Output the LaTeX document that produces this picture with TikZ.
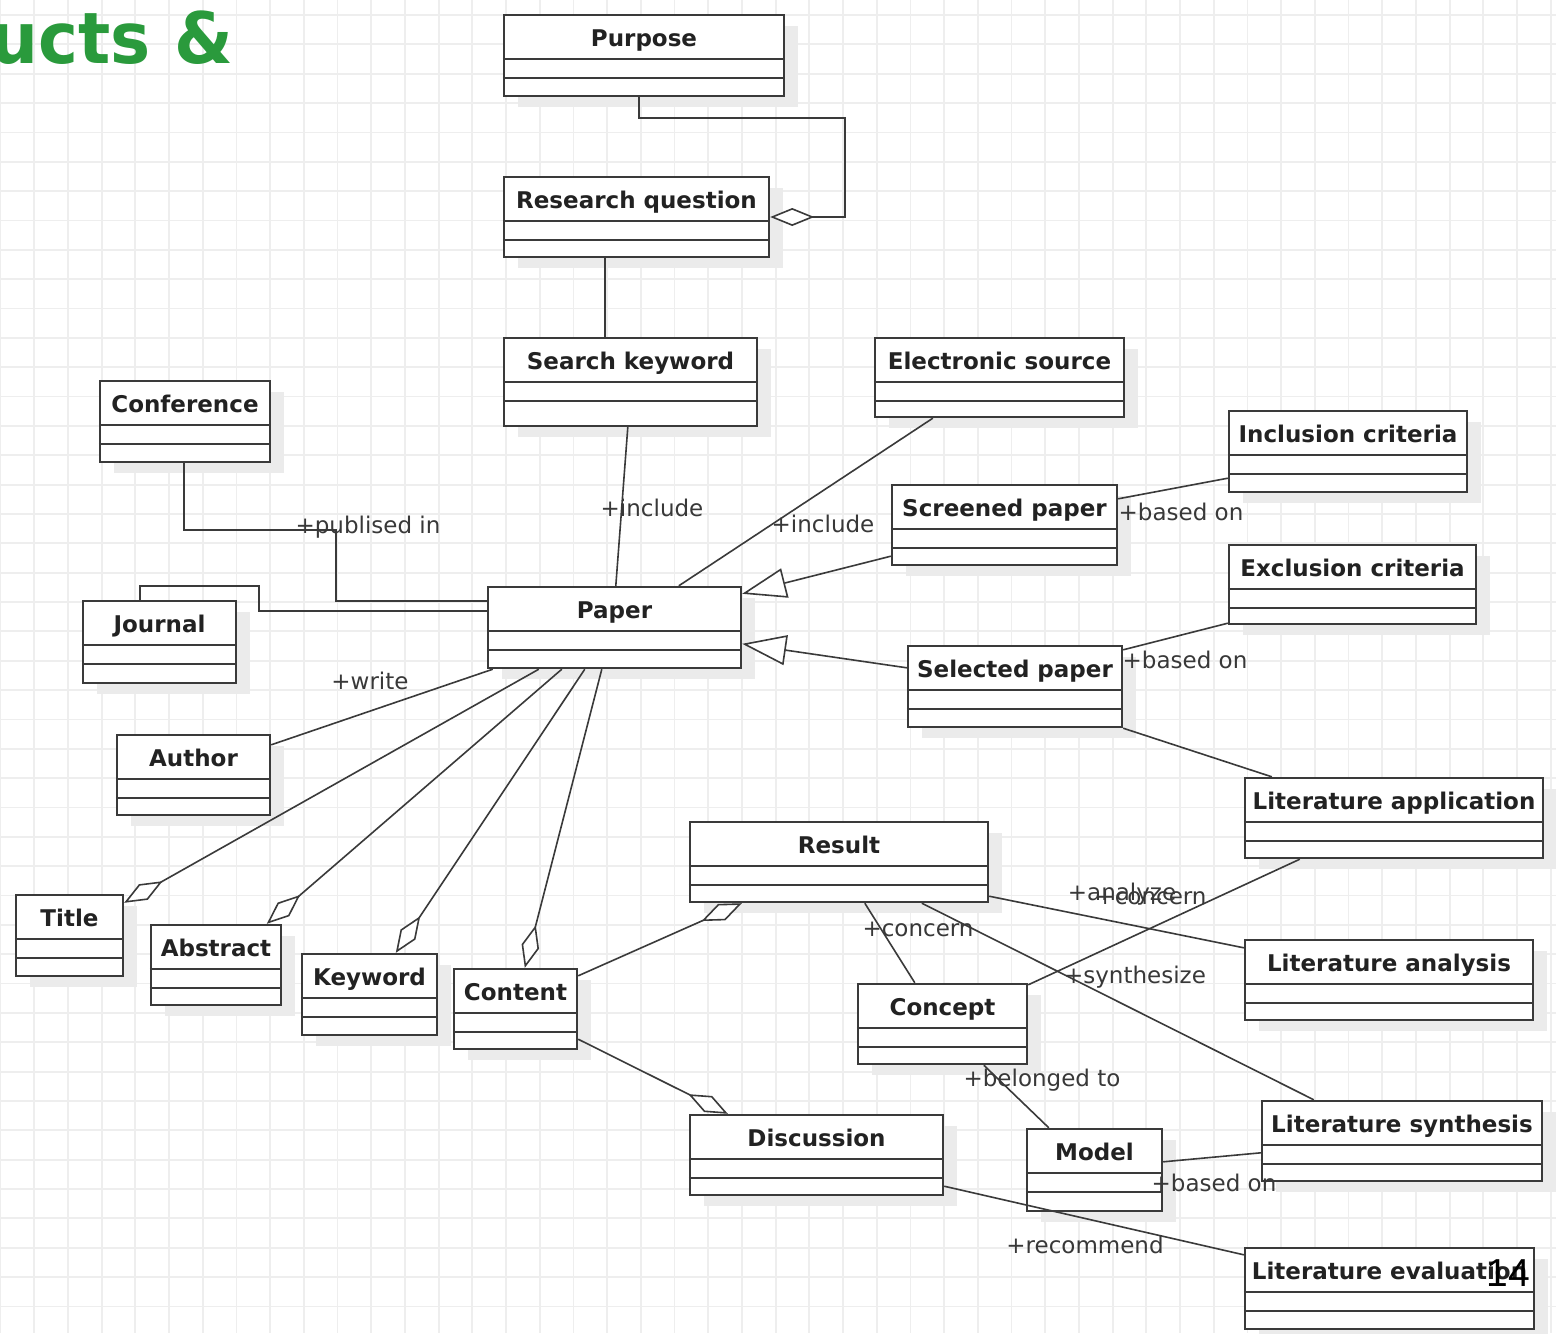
\documentclass[tikz,border=0pt]{standalone}
\usepackage{fontspec}
\setsansfont{DejaVu Sans}
\newfontfamily\pagenofont{Liberation Sans}
\usetikzlibrary{arrows.meta,calc,fit}

\definecolor{gridcol}{HTML}{EEEEEE}
\definecolor{shadowcol}{HTML}{EBEBEB}
\definecolor{linecol}{HTML}{3A3A3A}
\definecolor{textcol}{HTML}{222222}
\definecolor{labelcol}{HTML}{383838}
\definecolor{headgreen}{HTML}{2A9A3C}

% one pixel = 0.5pt, y grows downwards
\tikzset{
  x=0.5pt, y=-0.5pt,
  gridline/.style={draw=gridcol, line width=0.9pt},
  classbox/.style={rectangle, draw=linecol, line width=1.2pt, fill=white, inner sep=0pt},
  compline/.style={draw=linecol, line width=1.1pt},
  classname/.style={font=\fontsize{11.5}{13}\selectfont\sffamily\bfseries, text=textcol, inner sep=0pt, anchor=base},
  conn/.style={draw=linecol, line width=0.8pt},
  agg/.style={conn, -{Diamond[fill=white, length=22pt, width=9pt]}},
  gen/.style={conn, -{Triangle[fill=white, length=22pt, width=15pt]}},
  rolelabel/.style={font=\fontsize{11.5}{13}\selectfont\sffamily, text=labelcol, inner sep=0pt, anchor=base},
}

% UML class: name, left, top, right, bottom, title
\newcommand\umlclass[6]{%
  \fill[shadowcol] (#2+14,#3+11) rectangle (#4+14,#5+11);
  \node[classbox, fit={(#2,#3) (#4,#5)}] (#1) {};
  \draw[compline] ($(#1.north west)+(0,45.5)$) -- ($(#1.north east)+(0,45.5)$);
  \draw[compline] ($(#1.north west)+(0,64)$) -- ($(#1.north east)+(0,64)$);
  \node[classname] (#1-name) at ({(#2+#4)/2},#3+31) {#6};
}

\begin{document}
\begin{tikzpicture}
\useasboundingbox (0,0) rectangle (1556,1333);
\fill[white] (0,0) rectangle (1556,1333);

% background grid
\foreach \i in {0,...,46} \draw[gridline] (\i*33.7+0.5,0) -- (\i*33.7+0.5,1333);
\foreach \j in {0,...,45} \draw[gridline] (0,15+\j*29.35) -- (1556,15+\j*29.35);

% heading fragment
\node[anchor=base west, inner sep=0pt, text=headgreen, font=\fontsize{35.5}{40}\selectfont\sffamily\bfseries] (heading) at (-10,63) {\scalebox{0.95}[1]{ucts \&}};

% classes
\umlclass{purpose}{504}{15}{784}{96}{Purpose}
\umlclass{rq}{504}{177}{769}{257}{Research question}
\umlclass{sk}{504}{338}{757}{426}{Search keyword}
\umlclass{es}{875}{338}{1124}{417}{Electronic source}
\umlclass{conf}{100}{381}{270}{462}{Conference}
\umlclass{inc}{1229}{411}{1467}{492}{Inclusion criteria}
\umlclass{scr}{892}{485}{1117}{565}{Screened paper}
\umlclass{exc}{1229}{545}{1476}{624}{Exclusion criteria}
\umlclass{paper}{488}{587}{741}{668}{Paper}
\umlclass{journal}{83}{601}{236}{683}{Journal}
\umlclass{sel}{908}{646}{1122}{727}{Selected paper}
\umlclass{author}{117}{735}{270}{815}{Author}
\umlclass{lapp}{1245}{778}{1543}{858}{Literature application}
\umlclass{result}{690}{822}{988}{902}{Result}
\umlclass{title}{16}{895}{123}{976}{Title}
\umlclass{abstract}{151}{925}{281}{1005}{Abstract}
\umlclass{keyword}{302}{954}{437}{1035}{Keyword}
\umlclass{content}{454}{969}{577}{1049}{Content}
\umlclass{lana}{1245}{940}{1533}{1020}{Literature analysis}
\umlclass{concept}{858}{984}{1027}{1064}{Concept}
\umlclass{lsyn}{1262}{1101}{1542}{1181}{Literature synthesis}
\umlclass{disc}{690}{1115}{943}{1195}{Discussion}
\umlclass{model}{1027}{1129}{1162}{1211}{Model}
\umlclass{leval}{1245}{1248}{1534}{1329}{Literature evaluation}

% associations
\draw[agg] ($(purpose.south west)+(136,0)$) -- ++(0,21) -- ++(206,0) |- (rq.east);
\draw[conn] ($(rq.south west)+(102,0)$) -- ($(sk.north west)+(102,0)$);
\draw[conn] ($(sk.south west)+(125,0)$) -- ($(paper.north west)+(129,0)$);
\draw[conn] ($(es.south west)+(59,0)$) -- ($(paper.north west)+(192,0)$);
\draw[gen] ($(scr.south west)+(0,-10)$) -- ($(paper.north east)+(0,8)$);
\draw[gen] ($(sel.north west)+(0,23)$) -- ($(paper.north east)+(0,58)$);
\draw[conn] ($(conf.south west)+(85,0)$) -- ++(0,67) -- ++(152,0) |- ($(paper.north west)+(0,15)$);
\draw[conn] ($(journal.north west)+(58,0)$) -- ++(0,-14) -- ++(119,0) |- ($(paper.north west)+(0,25)$);
\draw[conn] ($(author.north east)+(0,11)$) -- ($(paper.south west)+(6,0)$);
\draw[agg] ($(paper.south west)+(52,0)$) -- ($(title.north east)+(0,9)$);
\draw[agg] ($(paper.south west)+(75,0)$) -- ($(abstract.north west)+(117,0)$);
\draw[agg] ($(paper.south west)+(98,0)$) -- ($(keyword.north west)+(95,0)$);
\draw[agg] ($(paper.south west)+(115,0)$) -- ($(content.north west)+(72,0)$);
\draw[agg] ($(content.north east)+(0,8)$) -- ($(result.south west)+(53,0)$);
\draw[agg] ($(content.south east)+(0,-11)$) -- ($(disc.north west)+(39,0)$);
\draw[conn] ($(result.south west)+(176,0)$) -- ($(concept.north west)+(58,0)$);
\draw[conn] ($(result.south west)+(233,0)$) -- ($(lsyn.north west)+(53,0)$);
\draw[conn] ($(result.south east)+(0,-7)$) -- ($(lana.north west)+(0,9)$);
\draw[conn] ($(concept.north east)+(0,2)$) -- ($(lapp.south west)+(56,0)$);
\draw[conn] ($(scr.north east)+(0,15)$) -- ($(inc.south west)+(0,-15)$);
\draw[conn] ($(sel.north east)+(0,5)$) -- ($(exc.south west)+(0,-2)$);
\draw[conn] (sel.south east) -- ($(lapp.north west)+(28,0)$);
\draw[conn] ($(concept.south west)+(127,0)$) -- ($(model.north west)+(23,0)$);
\draw[conn] ($(model.north east)+(0,34)$) -- ($(lsyn.north west)+(0,53)$);
\draw[conn] ($(disc.south east)+(0,-10)$) -- ($(leval.north west)+(0,8)$);

% role names
\node[rolelabel] (l-inc1) at (652,516) {+include};
\node[rolelabel] (l-inc2) at (823,532) {+include};
\node[rolelabel] (l-pub) at (368,533) {+publised in};
\node[rolelabel] (l-write) at (370,689) {+write};
\node[rolelabel] (l-based1) at (1181,520) {+based on};
\node[rolelabel] (l-based2) at (1185,668) {+based on};
\node[rolelabel] (l-analyze) at (1122,900) {+analyze};
\node[rolelabel] (l-concern2) at (1151,904) {+concern};
\node[rolelabel] (l-concern1) at (918,936) {+concern};
\node[rolelabel] (l-synth) at (1135,983) {+synthesize};
\node[rolelabel] (l-belong) at (1042,1086) {+belonged to};
\node[rolelabel] (l-based3) at (1214,1191) {+based on};
\node[rolelabel] (l-recommend) at (1085,1253) {+recommend};

% slide number
\node[anchor=base, inner sep=0pt, font=\pagenofont\fontsize{19.5}{22}\selectfont] (pageno) at (1508,1286) {14};
\end{tikzpicture}
\end{document}
